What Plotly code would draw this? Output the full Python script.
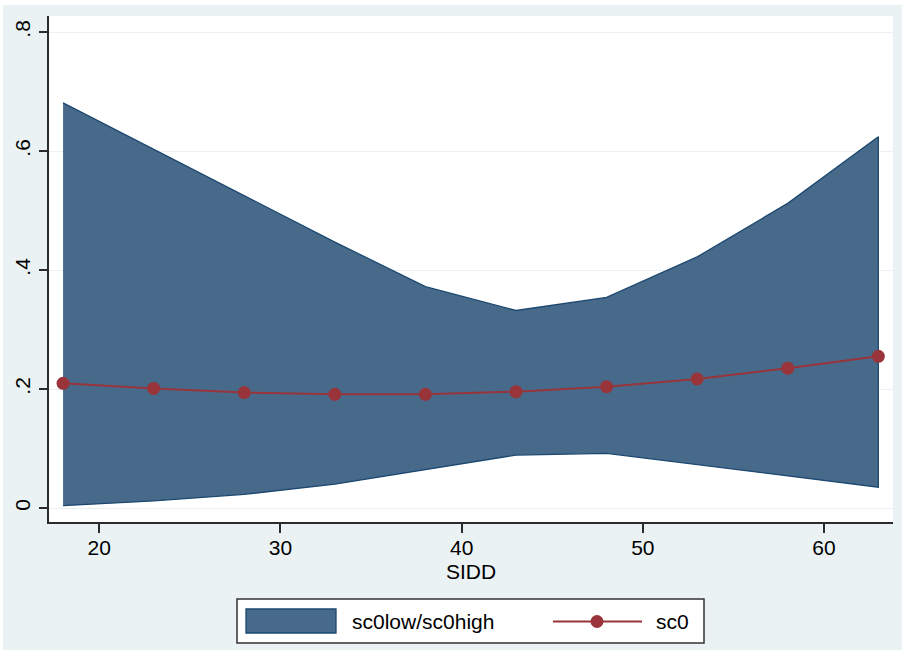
import plotly.graph_objects as go

# Predicted values of sc0 with confidence band, by SIDD
sidd = [18, 23, 28, 33, 38, 43, 48, 53, 58, 63]
sc0 = [0.2095, 0.201, 0.194, 0.191, 0.191, 0.1955, 0.204, 0.217, 0.235, 0.255]
sc0low = [0.004, 0.012, 0.023, 0.040, 0.065, 0.089, 0.092, 0.073, 0.054, 0.035]
sc0high = [0.681, 0.603, 0.524, 0.447, 0.372, 0.332, 0.354, 0.422, 0.512, 0.624]

y_ticks = [0, 0.2, 0.4, 0.6, 0.8]
y_ticklabels = ["0", ".2", ".4", ".6", ".8"]
x_ticks = [20, 30, 40, 50, 60]

BG = "#EAF2F3"
BAND = "rgb(72,106,138)"
BAND_EDGE = "rgb(28,72,112)"
RED = "rgb(152,52,58)"
AXIS = "#2b2b2b"
FONT = "Liberation Sans, Arial, Helvetica, sans-serif"

W, H = 902, 650
L, R, T, B = 49, 9, 16, 128
PW, PH = W - L - R, H - T - B


def px(xp):
    return (xp - L) / PW


def py(yp):
    return (H - B - yp) / PH


fig = go.Figure()

# confidence band as a closed polygon
fig.add_trace(go.Scatter(
    x=sidd + sidd[::-1],
    y=sc0high + sc0low[::-1],
    fill="toself",
    fillcolor=BAND,
    line=dict(color=BAND_EDGE, width=1.3),
    mode="lines",
    name="sc0low/sc0high",
    hoverinfo="skip",
))

fig.add_trace(go.Scatter(
    x=sidd,
    y=sc0,
    mode="lines+markers",
    line=dict(color=RED, width=2),
    marker=dict(color=RED, size=13),
    name="sc0",
))

shapes = [
    # thin white frame along the top and left edges of the image
    dict(type="rect", xref="paper", yref="paper", layer="below",
         x0=px(0), x1=px(W), y0=py(5), y1=py(0),
         fillcolor="white", line=dict(width=0)),
    dict(type="rect", xref="paper", yref="paper", layer="below",
         x0=px(0), x1=px(3), y0=py(H), y1=py(0),
         fillcolor="white", line=dict(width=0)),
    # legend box
    dict(type="rect", xref="paper", yref="paper",
         x0=px(237), x1=px(704), y0=py(643), y1=py(599),
         fillcolor="white", line=dict(color="#333333", width=1.5)),
    # band swatch
    dict(type="rect", xref="paper", yref="paper",
         x0=px(246), x1=px(336), y0=py(633), y1=py(609),
         fillcolor=BAND, line=dict(color=BAND_EDGE, width=1.3)),
    # line + marker swatch
    dict(type="line", xref="paper", yref="paper",
         x0=px(553), x1=px(642), y0=py(621.5), y1=py(621.5),
         line=dict(color=RED, width=2)),
    dict(type="circle", xref="paper", yref="paper",
         xsizemode="pixel", ysizemode="pixel",
         xanchor=px(597), yanchor=py(621.5),
         x0=-6.5, x1=6.5, y0=-6.5, y1=6.5,
         fillcolor=RED, line=dict(color=RED, width=0)),
]

annotations = [
    dict(text="sc0low/sc0high", xref="paper", yref="paper",
         x=px(350), y=py(621.5), xanchor="left", yanchor="middle",
         showarrow=False, font=dict(family=FONT, size=21, color="black")),
    dict(text="sc0", xref="paper", yref="paper",
         x=px(654), y=py(621.5), xanchor="left", yanchor="middle",
         showarrow=False, font=dict(family=FONT, size=21, color="black")),
]

fig.update_layout(
    width=W, height=H,
    margin=dict(l=L, r=R, t=T, b=B, autoexpand=False),
    paper_bgcolor=BG,
    plot_bgcolor="white",
    showlegend=False,
    font=dict(family=FONT, size=21, color="black"),
    shapes=shapes,
    annotations=annotations,
    xaxis=dict(
        range=[17.224, 63.81],
        tickvals=x_ticks,
        ticks="outside", ticklen=9, tickwidth=1.5, tickcolor=AXIS,
        showline=True, linecolor=AXIS, linewidth=1.5,
        showgrid=False, zeroline=False,
        automargin=False,
        tickfont=dict(family=FONT, size=21),
        ticklabelstandoff=-3,
        title=dict(text="SIDD", font=dict(family=FONT, size=21), standoff=6),
    ),
    yaxis=dict(
        range=[-0.0235, 0.8269],
        tickvals=y_ticks,
        ticktext=y_ticklabels,
        tickangle=-90,
        ticks="outside", ticklen=8, tickwidth=1.5, tickcolor=AXIS,
        showline=True, linecolor=AXIS, linewidth=1.5,
        showgrid=True, gridcolor=BG, gridwidth=1.2,
        zeroline=False,
        automargin=False,
        tickfont=dict(family=FONT, size=21),
        ticklabelstandoff=1,
    ),
)

fig.write_html("out.html")
